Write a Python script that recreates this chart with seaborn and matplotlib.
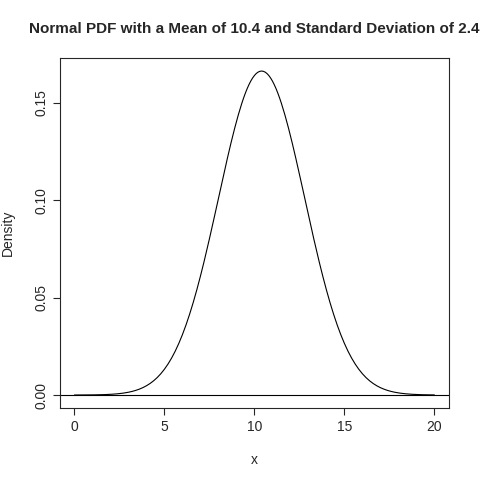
import matplotlib
matplotlib.use("Agg")
import matplotlib.pyplot as plt
import seaborn as sns
import numpy as np
import pandas as pd

# parameters given in the chart title
mean = 10.4
sd = 2.4
x_start, x_end = 0, 20
x_ticks = [0, 5, 10, 15, 20]
y_ticks = [0.00, 0.05, 0.10, 0.15]

x = np.linspace(x_start, x_end, 201)
density = np.exp(-0.5 * ((x - mean) / sd) ** 2) / (sd * np.sqrt(2 * np.pi))
df = pd.DataFrame({"x": x, "Density": density})

sns.set_style("ticks")
plt.rcParams['font.family'] = ['Liberation Sans', 'DejaVu Sans']

fig = plt.figure(figsize=(4.8, 4.8), dpi=100)
ax = fig.add_axes([0.125, 0.15, 0.81, 0.729])
sns.lineplot(data=df, x="x", y="Density", color="black", linewidth=0.8, ax=ax)
ax.axhline(0, color="black", linewidth=0.8)

ax.set_xlim(-0.8, 20.8)
ymax = density.max()
ax.set_ylim(-0.04 * ymax, 1.04 * ymax)
ax.set_xticks(x_ticks)
ax.set_yticks(y_ticks)
ax.set_yticklabels([f"{v:.2f}" for v in y_ticks], rotation=90, va="center")
ax.tick_params(labelsize=10, length=5, width=0.8, direction="out")
for s in ax.spines.values():
    s.set_visible(True)
    s.set_linewidth(0.8)
ax.set_xlabel("x", fontsize=10, labelpad=14)
ax.set_ylabel("Density", fontsize=10, labelpad=14)
ax.set_title("Normal PDF with a Mean of 10.4 and Standard Deviation of 2.4",
             fontsize=11, fontweight="bold", pad=18)

fig.savefig("out.png", dpi=100)
